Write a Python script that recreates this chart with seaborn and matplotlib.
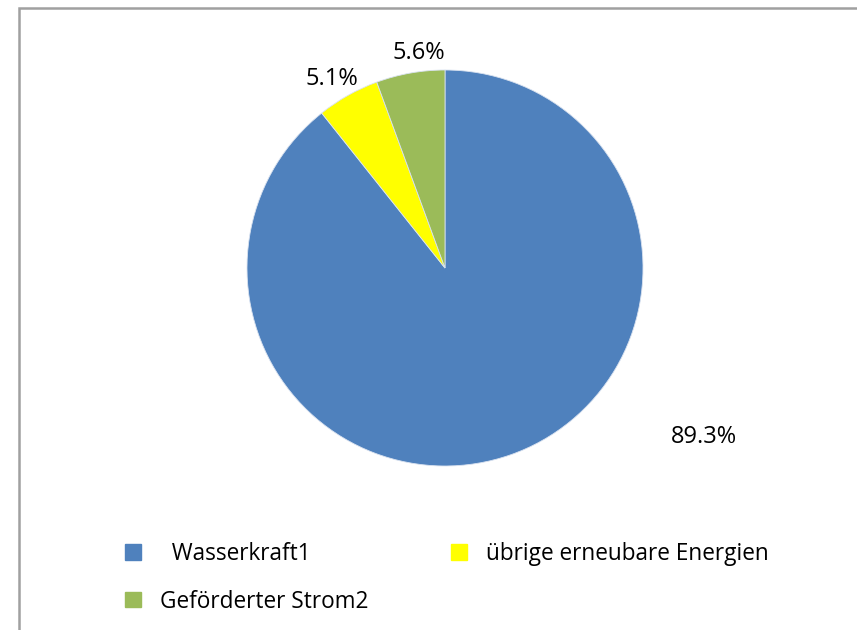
import numpy as np
import matplotlib
matplotlib.use('Agg')
import matplotlib.pyplot as plt
import matplotlib.patches as mpatches
import seaborn as sns

# data
labels = ['  Wasserkraft1', 'übrige erneubare Energien', 'Geförderter Strom2']
shares = [89.3, 5.1, 5.6]
colors = ['#4F81BD', '#FFFF00', '#9BBB59']

sns.set_theme(style='white')
plt.rcParams['font.family'] = ['Open Sans', 'DejaVu Sans']
plt.rcParams['text.color'] = 'black'

fig = plt.figure(figsize=(8.57, 6.30), dpi=100)
cx, cy, r = 445, 268, 198
ax = fig.add_axes([(cx - r) / 857, (630 - cy - r) / 630, 2 * r / 857, 2 * r / 630])

wedges, _ = ax.pie(shares, colors=colors, startangle=90, counterclock=False,
                   radius=1, wedgeprops=dict(edgecolor='#D9E2F0', linewidth=0.6))
ax.set_xlim(-1, 1)
ax.set_ylim(-1, 1)
ax.axis('off')

# label placement (angle offset in deg, distance in radii) like Excel's best fit
label_pos = [(37.7, 1.563), (1.6, 1.112), (-3.2, 1.094)]
for w, s, (da, dist) in zip(wedges, shares, label_pos):
    ang = np.deg2rad((w.theta1 + w.theta2) / 2 + da)
    ax.text(dist * np.cos(ang), dist * np.sin(ang), f'{s:.1f}%',
            ha='center', va='center', fontsize=17, color='black')

# legend: blue, green in first column, yellow in second
order = [0, 2, 1]
handles = [mpatches.Patch(color=colors[i]) for i in order]
leg = fig.legend(handles, [labels[i] for i in order], ncol=2,
                 loc='upper left', bbox_to_anchor=(125 / 857, 1 - 542 / 630),
                 frameon=False, fontsize=16.3, labelcolor='black',
                 handlelength=0.7, handleheight=0.65,
                 handletextpad=0.83, columnspacing=3.67, labelspacing=1.05,
                 borderpad=0, borderaxespad=0)

# outer chart frame
fig.patches.append(mpatches.Rectangle((19 / 857, -0.1), 1.2, 0.1 + (630 - 8) / 630,
                                      transform=fig.transFigure, fill=False,
                                      edgecolor='#A0A0A0', linewidth=1.8))

fig.savefig('out.png', dpi=100)
